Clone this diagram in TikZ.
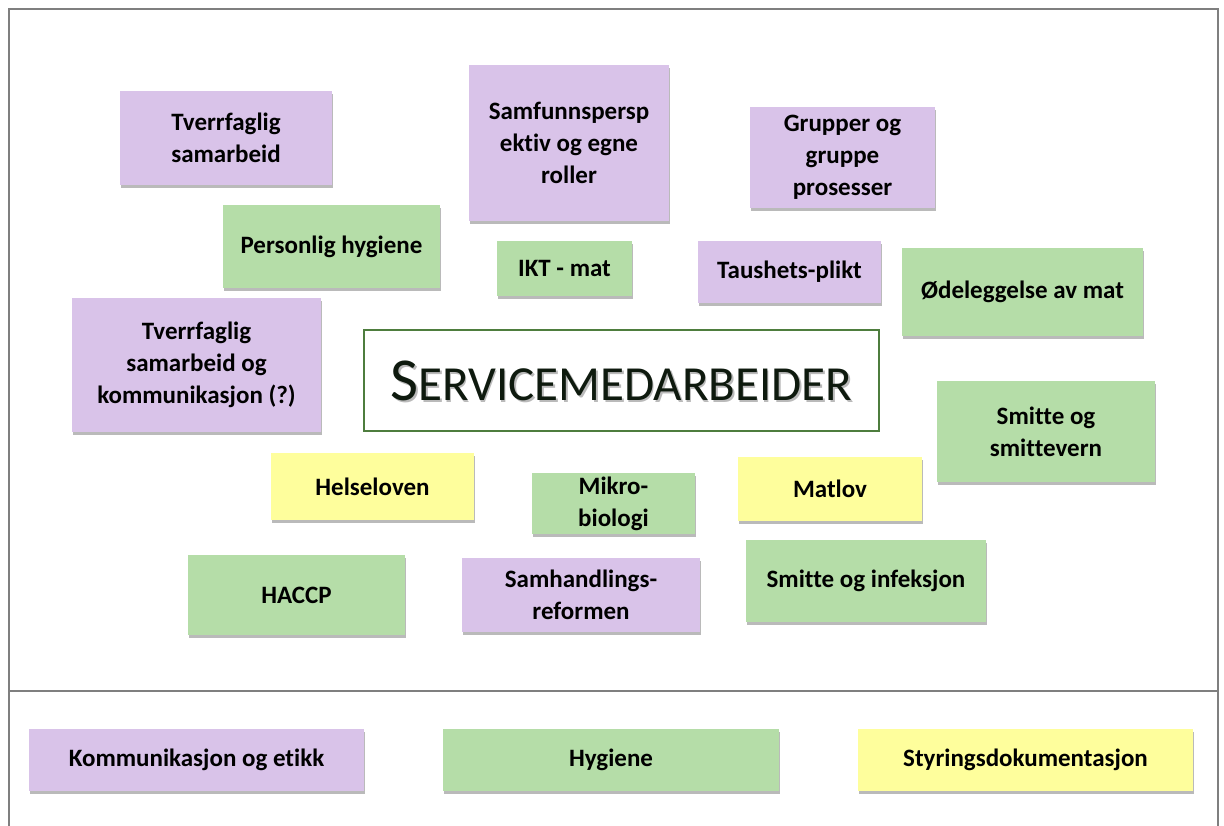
\documentclass[tikz,border=0pt]{standalone}
\usepackage{fontspec}
\setmainfont{Carlito}[Ligatures=CommonOff]
\usetikzlibrary{shadows}
\definecolor{lilla}{HTML}{D9C3E9}
\definecolor{groenn}{HTML}{B5DDA8}
\definecolor{gul}{HTML}{FEFE9C}
\definecolor{ramme}{HTML}{7F7F7F}
\definecolor{kant}{HTML}{4E7D3E}
\definecolor{tittel}{HTML}{0E1A0E}
\tikzset{
  lapp/.style={rectangle, inner sep=2pt, align=center,
    font=\fontsize{25}{32}\selectfont\bfseries, text=black,
    drop shadow={shadow xshift=1pt, shadow yshift=-3pt, opacity=0.45, fill=black!60}},
  tema/.style={lapp, fill=lilla},
  hyg/.style={lapp, fill=groenn},
  lov/.style={lapp, fill=gul},
  sz/.style 2 args={minimum width=#1pt, minimum height=#2pt},
  hoved/.style={rectangle, draw=kant, line width=1.4pt, fill=white},
  skille/.style={draw=ramme, line width=1.6pt}
}
\begin{document}
\begin{tikzpicture}[x=1pt, y=-1pt]
\useasboundingbox (0,0) rectangle (1224,825);
% outer frame and divider
\coordinate (fb) at (9,830);
\coordinate (ft) at (9,9);
\coordinate (fr) at (1218,9);
\coordinate (frb) at (1218,830);
\draw[skille] (fb) -- (ft) -- (fr) -- (frb);
\coordinate (dl) at (9,691);
\coordinate (dr) at (1218,691);
\draw[skille] (dl) -- (dr);

% topic notes
\node[tema, sz={212}{94}] (tvs) at (226,138) {Tverrfaglig\\samarbeid};
\node[tema, sz={200}{156}] (samf) at (569,143) {Samfunnspersp\\ektiv og egne\\roller};
\node[tema, sz={185}{101}] (grup) at (842.5,157.5) {Grupper og\\gruppe\\prosesser};
\node[hyg, sz={217}{83}] (pers) at (331.5,246.5) {Personlig hygiene};
\node[hyg, sz={135}{55}] (ikt) at (564.5,268.5) {IKT - mat};
\node[tema, sz={183}{62}] (taus) at (789.5,272) {Taushets-plikt};
\node[hyg, sz={241}{88}] (odel) at (1022.5,292) {Ødeleggelse av mat};
\node[tema, sz={249}{134}] (tsk) at (196.5,365) {Tverrfaglig\\samarbeid og\\kommunikasjon (?)};
\node[hyg, sz={218}{101}] (smv) at (1046,431.5) {Smitte og\\smittevern};
\node[lov, sz={203}{67}] (hels) at (372.5,486.5) {Helseloven};
\node[hyg, sz={163}{61}] (mikro) at (613.5,503.5) {Mikro-\\biologi};
\node[lov, sz={184}{64}] (matlov) at (830,489) {Matlov};
\node[hyg, sz={217}{80}] (haccp) at (296.5,595) {HACCP};
\node[tema, sz={238}{74}] (samh) at (581,595) {Samhandlings-\\reformen};
\node[hyg, sz={240}{82}] (smi) at (866,581) {Smitte og infeksjon};

% central title with a soft shadow behind the lettering
\node[hoved, sz={515}{101}] (midt) at (621.5,380.5) {};
\begin{scope}[transparency group, opacity=0.45]
  \node[text=black!60, font=\fontsize{49}{52}\selectfont] (midtskygge) at ([xshift=1.5pt, yshift=-2.5pt]midt.center)
    {{\fontsize{61}{62}\selectfont S}ERVICEMEDARBEIDER};
\end{scope}
\node[text=tittel, font=\fontsize{49}{52}\selectfont] (midttekst) at (midt.center)
  {{\fontsize{61}{62}\selectfont S}ERVICEMEDARBEIDER};

% legend
\node[tema, sz={335}{62}] (komm) at (196.5,760) {Kommunikasjon og etikk};
\node[hyg, sz={336}{62}] (hygiene) at (611,760) {Hygiene};
\node[lov, sz={335}{62}] (styr) at (1025.5,760) {Styringsdokumentasjon};
\end{tikzpicture}
\end{document}
